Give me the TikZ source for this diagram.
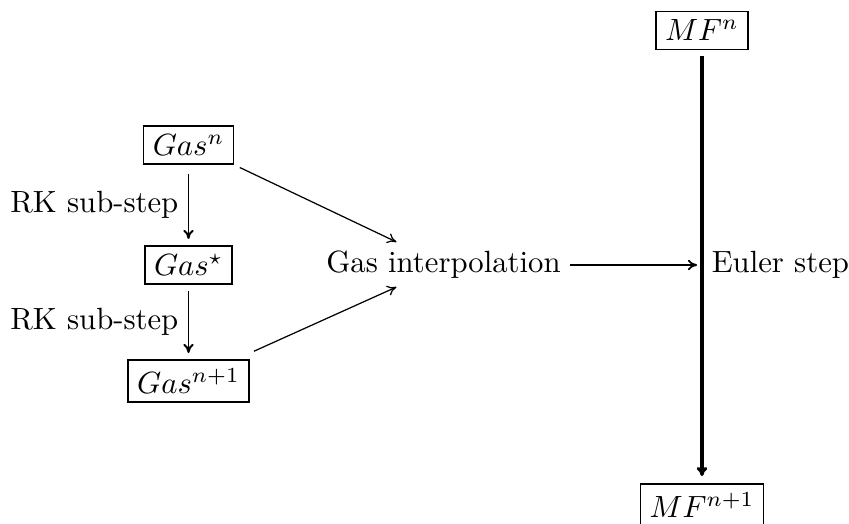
\documentclass[tikz,border=0pt]{standalone}
\usepackage{amsmath,amssymb}
\usetikzlibrary{calc,arrows.meta}

\begin{document}
\begin{tikzpicture}[x=0.3257pt, y=-0.3257pt,
        box/.style={draw, line width=0.5pt, inner xsep=3pt, inner ysep=2.8pt},
        arrow/.style={-{To[length=3pt,width=3.4pt]}},
        label/.style={inner sep=3pt}
    ]
        \useasboundingbox (0,0) rectangle (849,524);

        \node[box] (gasn) at (188.5, 145) {$Gas^n$};
        \node[box] (gasstar) at (188.5, 265) {$Gas^\star$};
        \node[box] (gasn1) at (188.5, 381) {$Gas^{n+1}$};
        \node[label] (interp) at (443.5, 265) {Gas interpolation};
        \node[box] (mfn) at (702, 30.5) {$MF^n$};
        \node[box] (mfn1) at (702, 505) {$MF^{n+1}$};
        \coordinate (mid) at (702, 265);

        \draw[arrow, line width=0.65pt, shorten <=3pt, shorten >=2pt] (gasn) -- node[label, left] {RK sub-step} (gasstar);
        \draw[arrow, line width=0.65pt, shorten <=2pt, shorten >=2pt] (gasstar) -- node[label, left] {RK sub-step} (gasn1);
        \draw[arrow, line width=0.4pt, shorten <=2pt] (gasn.south east) -- ($(interp.center)+(-47,-23)$);
        \draw[arrow, line width=0.4pt, shorten <=1.5pt] ($(gasn1.north east)+(0,-6)$) -- ($(interp.center)+(-47,22)$);
        \draw[arrow, line width=0.6pt, shorten >=1.6pt] (interp) -- (mid);
        \draw[arrow, line width=1pt, shorten <=2pt, shorten >=2.3pt] (mfn) -- (mfn1);
        \node[label, right] (euler) at (mid) {Euler step};
    \end{tikzpicture}
\end{document}
